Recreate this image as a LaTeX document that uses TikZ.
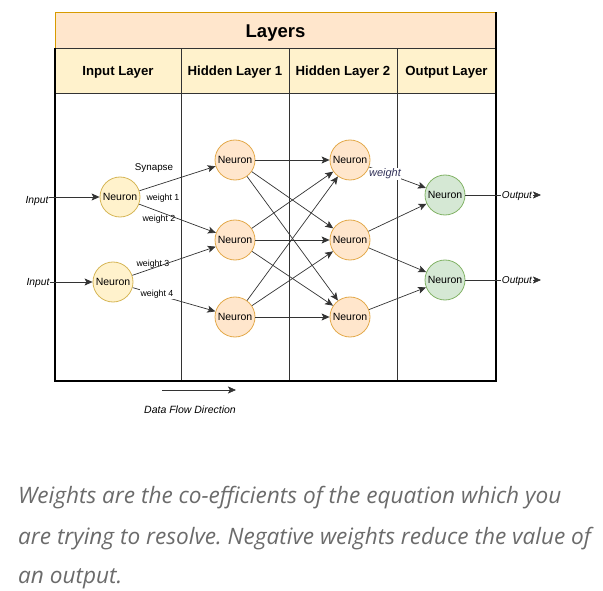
\documentclass[tikz,border=0pt]{standalone}
\usepackage{fontspec}
\setmainfont{Liberation Sans}
\newfontfamily\capfont{Open Sans}
\usetikzlibrary{arrows.meta,shapes.geometric}
\definecolor{titlefill}{HTML}{FFE6CC}
\definecolor{titledraw}{HTML}{D79B00}
\definecolor{headfill}{HTML}{FFF2CC}
\definecolor{infill}{HTML}{FFF2CC}
\definecolor{indraw}{HTML}{D6B656}
\definecolor{hidfill}{HTML}{FFE6CC}
\definecolor{hiddraw}{HTML}{E3A94A}
\definecolor{outfill}{HTML}{D5E8D4}
\definecolor{outdraw}{HTML}{82B366}
\definecolor{edgecol}{HTML}{333333}
\definecolor{capcol}{HTML}{6B6B6B}
\definecolor{wcol}{HTML}{33335A}
\tikzset{
  neuron/.style={circle, minimum size=40pt, inner sep=0pt, line width=0.8pt, text height=7.6pt, text depth=0pt, font=\fontsize{10.5}{12}\selectfont},
  inneuron/.style={neuron, fill=infill, draw=indraw},
  hidneuron/.style={neuron, fill=hidfill, draw=hiddraw},
  outneuron/.style={neuron, fill=outfill, draw=outdraw},
  arr/.style={draw=edgecol, line width=0.7pt, -{Stealth[length=8pt,width=7pt,inset=1.8pt]}},
  headcell/.style={draw=edgecol, line width=0.6pt, fill=headfill, minimum height=45pt, inner sep=0pt, text height=9.5pt, text depth=0pt, font=\bfseries\fontsize{13.2}{15}\selectfont},
  wlabel/.style={inner sep=0pt, font=\fontsize{8.8}{10}\selectfont},
  iolabel/.style={inner sep=0.5pt, font=\itshape\fontsize{10.3}{12}\selectfont},
  caption/.style={anchor=base west, inner sep=0pt, text=capcol, font=\capfont\itshape\fontsize{22.6}{26}\selectfont}
}
\frenchspacing
\begin{document}
\begin{tikzpicture}[x=1pt,y=-1pt]
\useasboundingbox (0,0) rectangle (603,591);
% table
\node[draw=titledraw, line width=0.8pt, fill=titlefill, minimum width=441pt, minimum height=36pt, inner sep=0pt, text height=13.3pt, text depth=0pt, font=\bfseries\fontsize{18.5}{21}\selectfont] (title) at (275.5,30.5) {Layers};
\node[headcell, minimum width=126pt] (h1) at (118,70.5) {Input Layer};
\node[headcell, minimum width=108pt] (h2) at (235,70.5) {Hidden Layer 1};
\node[headcell, minimum width=108pt] (h3) at (343,70.5) {Hidden Layer 2};
\node[headcell, minimum width=99pt] (h4) at (446.5,70.5) {Output Layer};
\draw[edgecol, line width=0.7pt] (181,93) -- (181,381) (289,93) -- (289,381) (397,93) -- (397,381);
\draw[black, line width=1.8pt] (55,48) -- (55,381) -- (496,381) -- (496,12);
% neurons
\node[inneuron] (I1) at (120,197) {Neuron};
\node[inneuron] (I2) at (113,282) {Neuron};
\node[hidneuron] (A1) at (235,160) {Neuron};
\node[hidneuron] (A2) at (235,240) {Neuron};
\node[hidneuron] (A3) at (235,317) {Neuron};
\node[hidneuron] (B1) at (350,160) {Neuron};
\node[hidneuron] (B2) at (350,240) {Neuron};
\node[hidneuron] (B3) at (350,317) {Neuron};
\node[outneuron] (O1) at (445,195) {Neuron};
\node[outneuron] (O2) at (445,280) {Neuron};
% inputs
\node[iolabel] (in1) at (37,201) {Input};
\node[iolabel] (in2) at (38,283) {Input};
\draw[arr] (in1.east |- I1.west) -- (I1.west);
\draw[arr] (in2.east |- I2.west) -- (I2.west);
% input -> hidden 1
\draw[arr] (I1) -- (A1);
\draw[arr] (I1) -- (A2);
\draw[arr] (I2) -- (A2);
\draw[arr] (I2) -- (A3);
% hidden 1 -> hidden 2
\foreach \a in {A1,A2,A3}{
  \foreach \b in {B1,B2,B3}{
    \draw[arr] (\a) -- (\b);
  }
}
% hidden 2 -> output
\draw[arr] (B1) -- (O1);
\draw[arr] (B2) -- (O1);
\draw[arr] (B2) -- (O2);
\draw[arr] (B3) -- (O2);
% outputs
\coordinate (e1) at (541,195);
\coordinate (e2) at (541,280);
\draw[arr] (O1) -- (e1);
\draw[arr] (O2) -- (e2);
\node[iolabel, fill=white, font=\itshape\fontsize{10}{12}\selectfont] (out1) at (517,196) {Output};
\node[iolabel, fill=white, font=\itshape\fontsize{10}{12}\selectfont] (out2) at (517,281) {Output};
% labels
\node[wlabel, font=\fontsize{9.8}{11}\selectfont] (syn) at (154,168) {Synapse};
\node[wlabel] (w1) at (163,198) {weight 1};
\node[wlabel] (w2) at (159,219) {weight 2};
\node[wlabel] (w3) at (153,264) {weight 3};
\node[wlabel, fill=white, inner sep=0.5pt] (w4) at (157,294) {weight 4};
\node[inner sep=0.5pt, fill=white, text=wcol, font=\itshape\fontsize{11}{12}\selectfont] (w5) at (385,174) {weight};
% data flow
\coordinate (df1) at (162,390);
\coordinate (df2) at (236,390);
\draw[arr] (df1) -- (df2);
\node[inner sep=0pt, font=\itshape\fontsize{10.5}{12}\selectfont] (dft) at (190,410) {Data Flow Direction};
% caption
\node[caption] (c1) at (18,503) {Weights are the co-efficients of the equation which you};
\node[caption] (c2) at (18,544) {are trying to resolve. Negative weights reduce the value of};
\node[caption] (c3) at (18,583) {an output.};
\end{tikzpicture}
\end{document}
